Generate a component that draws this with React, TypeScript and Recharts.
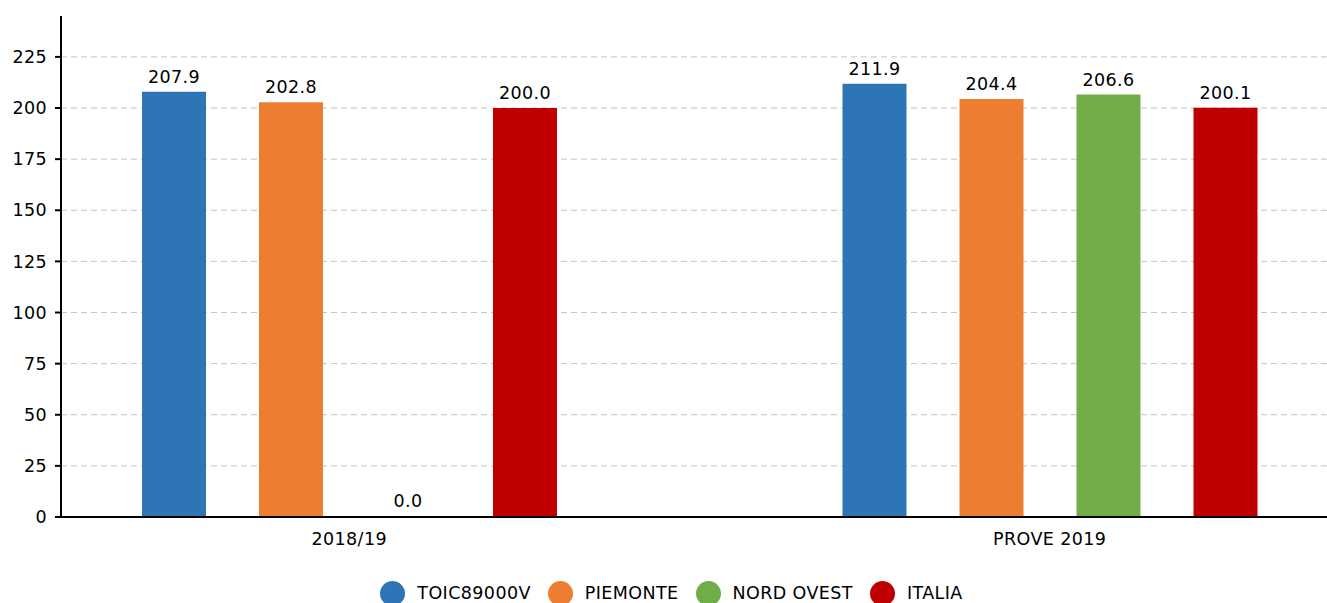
import React from "react";
import {
	BarChart,
	Bar,
	XAxis,
	YAxis,
	CartesianGrid,
	Legend,
	LabelList,
} from "recharts";

const categories = ["2018/19", "PROVE 2019"];
const toic = [207.9, 211.9];
const piemonte = [202.8, 204.4];
const nordOvest = [0, 206.6];
const italia = [200.0, 200.1];
const yTicks = [0, 25, 50, 75, 100, 125, 150, 175, 200, 225];

const series = [
	{ key: "toic", name: "TOIC89000V", color: "#2E75B6" },
	{ key: "piemonte", name: "PIEMONTE", color: "#ED7D31" },
	{ key: "nordOvest", name: "NORD OVEST", color: "#70AD47" },
	{ key: "italia", name: "ITALIA", color: "#C00000" },
];

const data = categories.map((name, i) => ({
	name,
	toic: toic[i],
	piemonte: piemonte[i],
	nordOvest: nordOvest[i],
	italia: italia[i],
}));

const font = "'DejaVu Sans', sans-serif";
const textStyle = { fontFamily: font, fontSize: 17.5, fill: "#000", letterSpacing: 0.4 };

function LegendContent() {
	return (
		<div
			style={{
				display: "flex",
				justifyContent: "center",
				gap: 17,
				paddingTop: 18,
				paddingLeft: 16,
				fontFamily: font,
				fontSize: 17.5,
				letterSpacing: 0.4,
				color: "#000",
			}}
		>
			{series.map((s) => (
				<div key={s.key} style={{ display: "flex", alignItems: "center", height: 24 }}>
					<span
						style={{
							width: 25,
							height: 25,
							borderRadius: "50%",
							background: s.color,
							display: "inline-block",
							marginRight: 12,
						}}
					/>
					<span>{s.name}</span>
				</div>
			))}
		</div>
	);
}

export default function App() {
	return (
		<div style={{ position: "absolute", left: 0, top: 0 }}>
			<BarChart
				width={1327}
				height={603}
				data={data}
				margin={{ top: 16, right: 0, bottom: 0, left: 0 }}
				barSize={64}
				barGap={53}
			>
				<CartesianGrid
					vertical={false}
					horizontalValues={yTicks}
					stroke="#c4c4c4"
					strokeDasharray="6 4"
				/>
				<XAxis
					dataKey="name"
					height={46}
					padding={{ left: -62, right: -73 }}
					tickLine={false}
					tickMargin={10}
					tick={textStyle}
					axisLine={{ stroke: "#000", strokeWidth: 2 }}
				/>
				<YAxis
					width={61}
					domain={[0, 245]}
					ticks={yTicks}
					tickSize={6}
					tickMargin={8}
					tick={textStyle}
					tickLine={{ stroke: "#000", strokeWidth: 2 }}
					axisLine={{ stroke: "#000", strokeWidth: 2 }}
				/>
				<Legend verticalAlign="bottom" height={40} content={<LegendContent />} />
				{series.map((s) => (
					<Bar
						key={s.key}
						dataKey={s.key}
						name={s.name}
						fill={s.color}
						minPointSize={1}
						isAnimationActive={false}
					>
						<LabelList
							dataKey={s.key}
							position="top"
							offset={9}
							formatter={(v: number) => v.toFixed(1)}
							style={textStyle}
						/>
					</Bar>
				))}
			</BarChart>
		</div>
	);
}
